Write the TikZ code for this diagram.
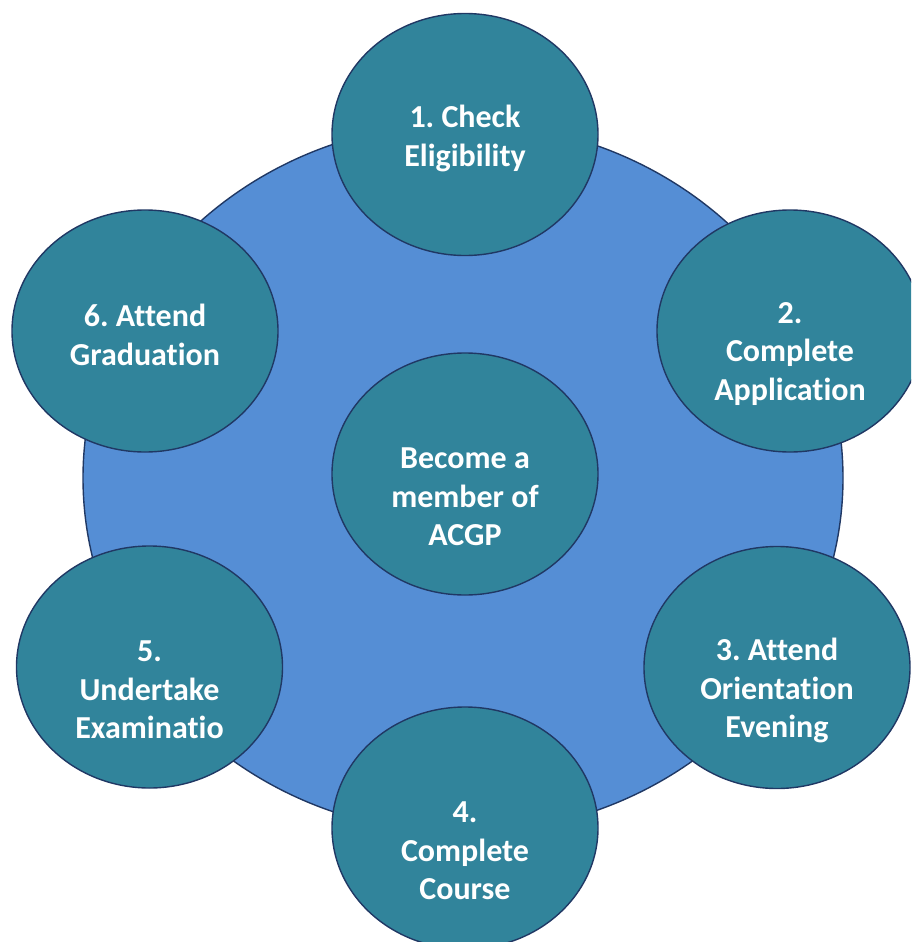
\documentclass[tikz,border=0pt]{standalone}
\usepackage{fontspec}
\setmainfont[Ligatures={NoCommon}]{Carlito}
\usetikzlibrary{shapes.geometric}
\frenchspacing

\definecolor{ringblue}{HTML}{558ED5}
\definecolor{stepteal}{HTML}{31849B}
\definecolor{edgenavy}{HTML}{203864}

\tikzset{
  ring/.style={ellipse, draw=edgenavy, line width=1.4pt, fill=ringblue,
    minimum width=760pt, minimum height=710pt, inner sep=0pt},
  stepbubble/.style={ellipse, draw=edgenavy, line width=1.4pt, fill=stepteal,
    minimum width=266pt, minimum height=242pt, inner sep=0pt},
  steptext/.style={text=white, align=center, inner sep=0pt,
    font=\bfseries\fontsize{32}{38.5}\selectfont\frenchspacing},
}

\begin{document}
\begin{tikzpicture}[x=1pt, y=-1pt]
  \useasboundingbox (0,0) rectangle (911,942);
  \clip (0,0) rectangle (911,942);

  % background ring
  \node[ring] (ring) at (463,478) {};

  % step bubbles
  \node[stepbubble] (c0) at (465,474) {};
  \node[stepbubble] (c1) at (465,134.5) {};
  \node[stepbubble] (c2) at (790,331) {};
  \node[stepbubble] (c3) at (777,667.5) {};
  \node[stepbubble] (c4) at (465,828) {};
  \node[stepbubble] (c5) at (149.5,667) {};
  \node[stepbubble] (c6) at (145,331) {};

  % labels
  \node[steptext] (t0) at ([yshift=-23pt]c0.center) {Become a\\member of\\ACGP};
  \node[steptext] (t1) at ([yshift=-4pt]c1.center) {1. Check\\Eligibility};
  \node[steptext] (t2) at ([yshift=-23pt]c2.center) {2.\\Complete\\Application};
  \node[steptext] (t3) at ([yshift=-23pt]c3.center) {3. Attend\\Orientation\\Evening};
  \node[steptext] (t4) at ([yshift=-23pt]c4.center) {4.\\Complete\\Course};
  \node[steptext] (t5) at ([yshift=-23pt]c5.center) {5.\\Undertake\\Examinatio};
  \node[steptext] (t6) at ([yshift=-4pt]c6.center) {6. Attend\\Graduation};
\end{tikzpicture}
\end{document}
